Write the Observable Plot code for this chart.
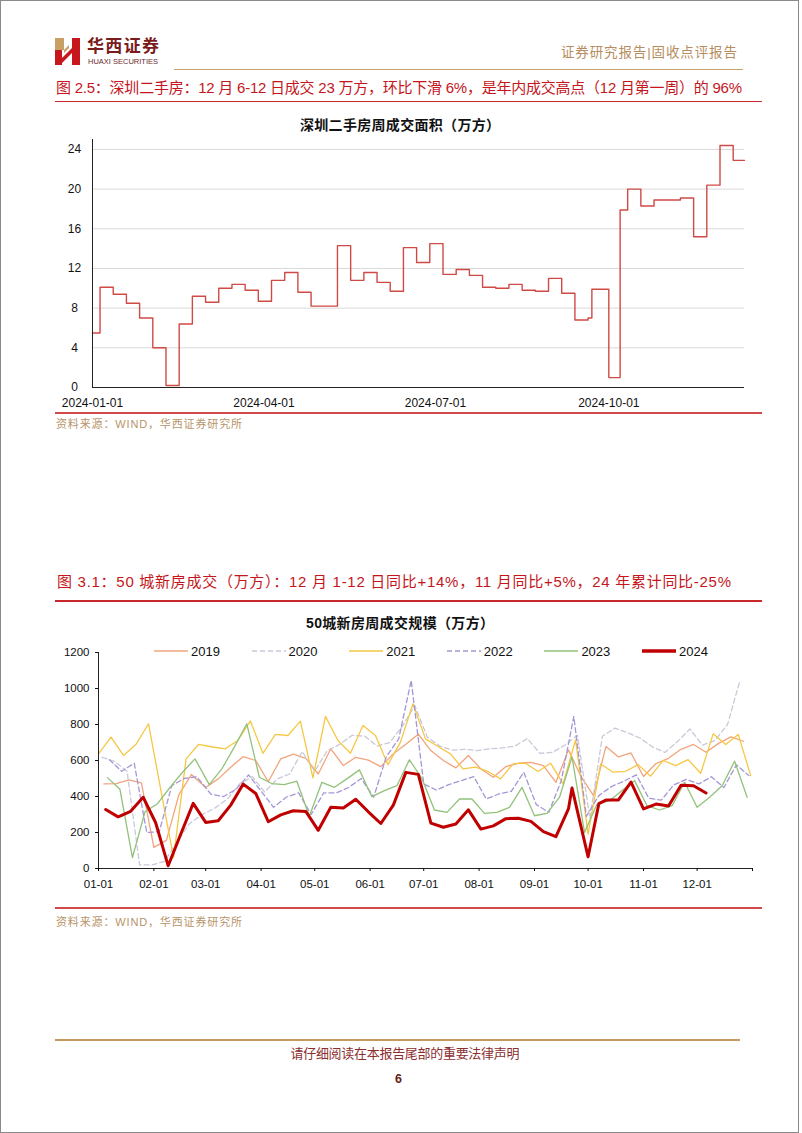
<!DOCTYPE html>
<html><head><meta charset="utf-8">
<script src="https://cdn.jsdelivr.net/npm/d3@7"></script>
<script src="https://cdn.jsdelivr.net/npm/@observablehq/plot@0.6"></script>
<style>
html,body{margin:0;padding:0;background:#fff;}
#page{position:relative;width:802px;height:1133px;overflow:hidden;background:#fff;font-family:"Liberation Sans",Arial,"Noto Sans CJK SC",sans-serif;}
#border{position:absolute;left:0;top:0;width:799px;height:1133px;box-sizing:border-box;border:1px solid #8a8a8a;pointer-events:none;}
.t{position:absolute;white-space:nowrap;line-height:1;transform:translateY(-50%);}
.rule{position:absolute;}
.chart{position:absolute;left:0;}
</style></head>
<body><div id="page"><div id="border"></div></div>
<script>
// ---------------- DATA ----------------
// Chart 1: 深圳二手房周成交面积（万方）, step values starting on each date
const szDates = ["2024-01-01","2024-01-05","2024-01-12","2024-01-19","2024-01-26","2024-02-02","2024-02-09","2024-02-16","2024-02-23",
  "2024-03-01","2024-03-08","2024-03-15","2024-03-22","2024-03-29","2024-04-05","2024-04-12","2024-04-19","2024-04-26",
  "2024-05-03","2024-05-10","2024-05-17","2024-05-24","2024-05-31","2024-06-07","2024-06-14","2024-06-21","2024-06-28",
  "2024-07-05","2024-07-12","2024-07-19","2024-07-26","2024-08-02","2024-08-09","2024-08-16","2024-08-23","2024-08-30",
  "2024-09-06","2024-09-13","2024-09-20","2024-09-22","2024-10-01","2024-10-07","2024-10-11","2024-10-18","2024-10-25",
  "2024-11-01","2024-11-08","2024-11-15","2024-11-22","2024-11-29","2024-12-06","2024-12-12"];
const szValues = [5.5,10.1,9.4,8.5,7.0,4.0,0.2,6.4,9.2,
  8.6,10.0,10.4,9.8,8.7,10.8,11.6,9.6,8.2,
  8.2,14.3,10.8,11.6,10.6,9.7,14.1,12.6,14.5,
  11.4,11.9,11.3,10.1,10.0,10.4,9.8,9.7,11.0,
  9.5,6.8,7.0,9.9,1.0,17.9,20.0,18.3,18.9,
  18.9,19.1,15.2,20.4,24.4,22.9,22.9];
const szYTicks = [0,4,8,12,16,20,24];
const szXTicks = ["2024-01-01","2024-04-01","2024-07-01","2024-10-01"];

// Chart 2: 50城新房周成交规模（万方）, weekly (Friday) values per year
const years = ["2019","2020","2021","2022","2023","2024"];
const v2019 = [470,472,492,476,117,156,410,522,450,498,563,622,600,482,609,635,612,525,665,572,618,602,566,637,690,746,655,600,559,628,553,507,566,585,590,572,479,659,512,405,678,620,642,511,583,612,662,689,646,695,731,707];
const v2020 = [618,595,540,20,20,40,150,250,300,335,385,470,510,425,498,525,650,540,655,690,740,735,680,700,790,905,730,680,658,662,655,665,670,680,722,640,645,685,740,280,735,780,755,725,676,645,705,775,685,711,800,1045];
const v2021 = [637,730,628,690,804,430,61,609,689,675,665,711,820,640,745,739,819,503,845,711,640,795,739,577,702,915,720,678,637,553,563,539,498,581,585,539,585,470,715,191,581,535,540,577,513,600,572,605,529,748,689,745,516];
const v2022 = [605,540,585,200,205,460,500,510,412,400,440,520,430,340,396,420,300,420,420,450,500,396,620,720,1045,470,436,466,488,511,386,414,429,535,355,312,488,845,290,405,455,485,520,390,380,465,495,470,510,450,576,516];
const v2023 = [505,440,61,315,360,450,535,609,466,553,674,804,507,472,466,485,290,479,451,498,548,399,433,460,604,500,325,312,386,386,306,312,340,451,293,306,396,620,200,358,377,433,488,349,325,349,479,340,396,460,596,396];
const dates2024 = ["01-05","01-12","01-19","01-26","02-02","02-09","02-16","02-23","03-01","03-08","03-15","03-22","03-29",
  "04-05","04-12","04-19","04-26","05-03","05-10","05-17","05-24","05-31","06-07","06-14","06-21","06-28",
  "07-05","07-12","07-19","07-26","08-02","08-09","08-16","08-23","08-30","09-06","09-13","09-20",
  "09-22","10-01","10-07","10-11","10-18","10-25","11-01","11-08","11-15","11-22","11-29","12-06"];
const v2024 = [328,287,318,396,254,15,190,362,256,265,352,469,417,260,298,321,317,212,340,336,385,315,250,352,534,523,252,229,247,326,219,237,277,279,262,205,177,331,
  447,65,360,380,381,480,331,358,347,462,460,419];
const newYTicks = [0,200,400,600,800,1000,1200];
const newXTickMonths = ["01-01","02-01","03-01","04-01","05-01","06-01","07-01","08-01","09-01","10-01","11-01","12-01"];

// ---------------- STYLES ----------------
const RED = "#c4161c";
const GOLD_TXT = "#b8946a";
const seriesStyle = {
  "2019": {stroke:"#f2a47c", width:1.3, dash:null},
  "2020": {stroke:"#c9c9d9", width:1.3, dash:"5,3"},
  "2021": {stroke:"#f6c744", width:1.3, dash:null},
  "2022": {stroke:"#a596d6", width:1.3, dash:"5,3"},
  "2023": {stroke:"#92c27a", width:1.3, dash:null},
  "2024": {stroke:"#c00000", width:3, dash:null}
};

const page = document.getElementById("page");
function addRule(x1, x2, y, h, color){
  const d = document.createElement("div"); d.className = "rule";
  d.style.left = x1+"px"; d.style.width = (x2-x1)+"px"; d.style.top = (y - h/2)+"px"; d.style.height = h+"px"; d.style.background = color;
  page.appendChild(d);
}
const fitList = [];
function addText(text, x, y, opts){
  const d = document.createElement("div"); d.className = "t"; d.textContent = text;
  d.style.left = x+"px"; d.style.top = y+"px";
  d.style.fontSize = (opts.size||12)+"px"; d.style.color = opts.color||"#111";
  d.style.fontWeight = opts.weight||400;
  d.style.height = (opts.size||12)+"px";
  if (opts.family) d.style.fontFamily = opts.family;
  page.appendChild(d);
  if (opts.w) fitList.push([d, opts.w]);
  return d;
}
function fitAll(){
  for (const [el, w] of fitList){
    el.style.letterSpacing = "0px";
    const r = el.getBoundingClientRect().width;
    const n = [...el.textContent].length;
    el.style.letterSpacing = ((w - r)/(n-1))+"px";
  }
}

// ---------------- HEADER ----------------
const logo = document.createElementNS("http://www.w3.org/2000/svg","svg");
logo.setAttribute("width","30"); logo.setAttribute("height","30");
logo.style.position="absolute"; logo.style.left="53px"; logo.style.top="37px";
logo.innerHTML = '<rect x="2" y="1" width="9" height="12" fill="#c9a063"/>' +
  '<rect x="2" y="13" width="7" height="15" fill="#c8161d"/>' +
  '<rect x="19" y="1" width="8" height="27" fill="#c8161d"/>' +
  '<polygon points="9,21 19,11 19,16 9,26" fill="#c8161d"/>' +
  '<polygon points="11,13 16,8 16,11 11,16" fill="#c9a063"/>';
page.appendChild(logo);
addText("华西证券", 87, 44, {size:17, weight:700, color:"#7a1c1c", w:72, family:'"Noto Sans CJK SC",sans-serif'});
addText("HUAXI SECURITIES", 88, 61.5, {size:7.5, color:"#6a2a2a", w:70});
addText("证券研究报告|固收点评报告", 561, 53, {size:13.5, color:"#b68d5e", w:176});
addRule(174, 743, 69.5, 1.8, "#c8a46c");

// ---------------- SECTION 1 ----------------
addText("图 2.5：深圳二手房：12 月 6-12 日成交 23 万方，环比下滑 6%，是年内成交高点（12 月第一周）的 96%", 56, 87, {size:15, color:RED, w:686});
addRule(55, 762, 101.5, 1.4, "#c8282d");
addText("深圳二手房周成交面积（万方）", 300, 125, {size:14, weight:700, color:"#111", w:200});

const szData = szDates.map((d,i) => ({date: new Date(d), value: szValues[i]}));
const chart1 = Plot.plot({
  width: 802, height: 274,
  marginLeft: 92, marginRight: 58, marginTop: 4, marginBottom: 22,
  style: {background:"transparent", fontFamily:'"Liberation Sans", Arial, sans-serif', fontSize:"12px", color:"#111", overflow:"visible"},
  x: {type:"utc", domain:[new Date("2024-01-01"), new Date("2024-12-12")], label:null},
  y: {domain:[0,25], label:null},
  marks: [
    Plot.gridY(szYTicks.filter(d => d > 0), {stroke:"#d9d9d9", strokeOpacity:1}),
    Plot.line(szData, {x:"date", y:"value", curve:"step-after", stroke:"#cf4a45", strokeWidth:1.4}),
    Plot.ruleY([0], {stroke:"#222"}),
    Plot.ruleX([new Date("2024-01-01")], {stroke:"#222"}),
    Plot.axisY(szYTicks, {tickSize:0, tickPadding:18, textAnchor:"middle", fontSize:12, label:null}),
    Plot.axisX(szXTicks.map(d => new Date(d)), {tickSize:0, tickPadding:11, tickFormat: d3.utcFormat("%Y-%m-%d"), fontSize:12, label:null})
  ]
});
const c1 = document.createElement("div"); c1.className="chart"; c1.style.top="135px"; c1.appendChild(chart1); page.appendChild(c1);

addRule(55, 762, 413, 1.4, "#d24a4a");
addText("资料来源：WIND，华西证券研究所", 56, 424, {size:11, color:GOLD_TXT, w:186});

// ---------------- SECTION 2 ----------------
addText("图 3.1：50 城新房成交（万方）：12 月 1-12 日同比+14%，11 月同比+5%，24 年累计同比-25%", 57, 581, {size:15, color:RED, w:674});
addRule(55, 762, 601, 1.4, "#c8282d");
addText("50城新房周成交规模（万方）", 306, 623, {size:14, weight:700, color:"#111", w:188});

function toYear2024(d){ return new Date(Date.UTC(2024, d.getUTCMonth(), d.getUTCDate())); }
function fridays(y){ return d3.utcFriday.range(new Date(Date.UTC(+y,0,1)), new Date(Date.UTC(+y+1,0,1))).map(toYear2024); }
const seriesValues = {"2019":v2019, "2020":v2020, "2021":v2021, "2022":v2022, "2023":v2023, "2024":v2024};
const seriesDates = {};
for (const y of years) seriesDates[y] = y === "2024" ? dates2024.map(s => new Date("2024-" + s)) : fridays(y);
const newData = years.flatMap(y => seriesValues[y].map((v,i) => ({year:y, date:seriesDates[y][i], value:v})));

const monthTicks = newXTickMonths.map(s => new Date("2024-" + s));
const axisEnd = new Date("2025-01-01");
const chart2 = Plot.plot({
  width: 802, height: 253,
  marginLeft: 98, marginRight: 50, marginTop: 12, marginBottom: 25,
  style: {background:"transparent", fontFamily:'"Liberation Sans", Arial, sans-serif', fontSize:"11.5px", color:"#111", overflow:"visible"},
  x: {type:"utc", domain:[new Date("2024-01-01"), axisEnd], label:null},
  y: {domain:[0,1200], label:null},
  marks: [
    ...years.map(y => Plot.line(newData.filter(d => d.year === y), {
      x:"date", y:"value", stroke: seriesStyle[y].stroke, strokeWidth: seriesStyle[y].width,
      strokeDasharray: seriesStyle[y].dash || undefined, strokeLinejoin:"round"
    })),
    Plot.ruleY([0], {stroke:"#222"}),
    Plot.ruleX([new Date("2024-01-01")], {stroke:"#222"}),
    Plot.axisY(newYTicks, {tickSize:3, tickPadding:6, fontSize:11.5, label:null, tickFormat: d => String(d)}),
    Plot.axisX(monthTicks.concat([axisEnd]), {tickSize:3, tickPadding:8, fontSize:11.5, label:null,
      tickFormat: d => +d === +axisEnd ? "" : d3.utcFormat("%m-%d")(d)})
  ]
});
const c2 = document.createElement("div"); c2.className="chart"; c2.style.top="640px"; c2.appendChild(chart2); page.appendChild(c2);

// legend
years.forEach((y, i) => {
  const x0 = 154 + i * 97.6;
  const s = seriesStyle[y];
  const sv = document.createElementNS("http://www.w3.org/2000/svg","svg");
  sv.setAttribute("width","34"); sv.setAttribute("height","8");
  sv.style.position="absolute"; sv.style.left = x0+"px"; sv.style.top = "647px";
  sv.innerHTML = `<line x1="0" x2="34" y1="4" y2="4" stroke="${s.stroke}" stroke-width="${y==="2024"?3.5:1.5}" ${s.dash?`stroke-dasharray="${s.dash}"`:""}/>`;
  page.appendChild(sv);
  addText(y, x0 + 37, 651, {size:13, color:"#111"});
});

addRule(55, 762, 908, 1.4, "#d24a4a");
addText("资料来源：WIND，华西证券研究所", 56, 922, {size:11, color:GOLD_TXT, w:186});

// ---------------- FOOTER ----------------
addRule(55, 740, 1040, 2.8, "#c49a5e");
addText("请仔细阅读在本报告尾部的重要法律声明", 290.5, 1053, {size:13, color:"#8b2e2e", w:229});
addText("6", 395, 1078.5, {size:12.5, weight:700, color:"#6b1a1a"});

fitAll();
if (document.fonts && document.fonts.ready) document.fonts.ready.then(fitAll);
</script>
</body></html>
